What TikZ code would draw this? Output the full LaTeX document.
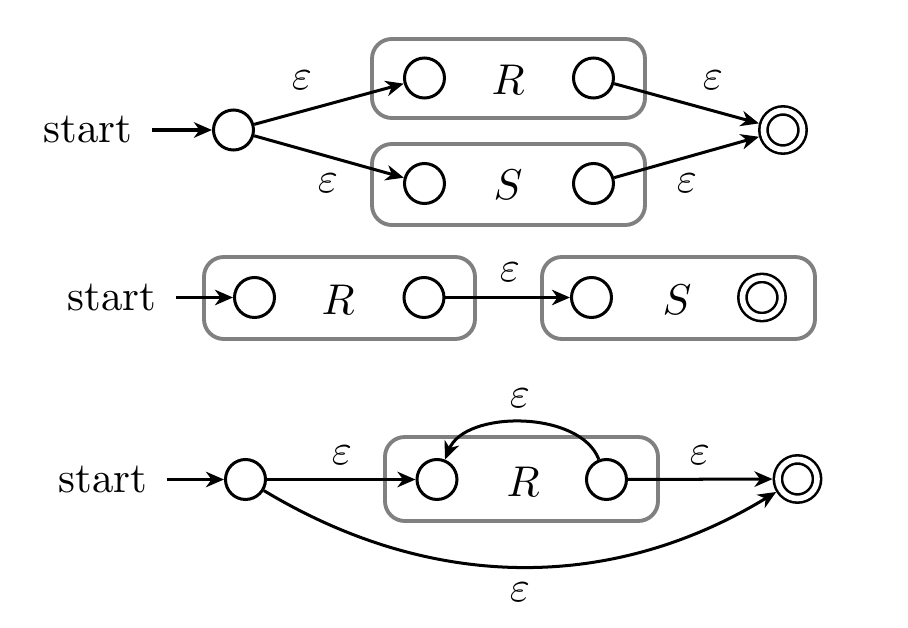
\documentclass[tikz,border=0pt]{standalone}
\usetikzlibrary{arrows.meta}
\begin{document}
\begin{tikzpicture}[x=0.2326pt,y=-0.2326pt,
  st/.style={circle,draw,line width=0.7pt,minimum size=9.3pt,inner sep=0pt},
  acc/.style={circle,draw,line width=0.6pt,double,double distance=1.3pt,minimum size=9.1pt,inner sep=0pt,outer sep=1.25pt},
  boxx/.style={draw=gray,line width=0.9pt,rounded corners=4.6pt},
  edge/.style={draw,line width=0.7pt,-{Stealth[length=4.2pt,width=3.6pt,inset=1.3pt]}},
  startedge/.style={edge,shorten <=4.4pt},
  lab/.style={inner sep=0pt},
  starttxt/.style={anchor=east,inner sep=0pt},
]
\useasboundingbox (0,0) rectangle (908,628);

% ---------- top: union ----------
\draw[boxx] (372,39) rectangle (645,118);
\draw[boxx] (372,144) rectangle (645,225);
\node[starttxt] (t1) at (133,130) {start};
\node[st] (q0) at (233.5,130) {};
\node[st] (r1) at (424.5,78) {};
\node[st] (r2) at (593.5,78) {};
\node[lab] (Rt) at (508,80) {$R$};
\node[st] (s1) at (424.5,183.5) {};
\node[st] (s2) at (593.5,183.5) {};
\node[lab] (St) at (508,185) {$S$};
\node[acc] (f1) at (783,130) {};
\draw[startedge] (t1) -- (q0);
\draw[edge] (q0) -- (r1);
\draw[edge] (q0) -- (s1);
\draw[edge] (r2) -- (f1);
\draw[edge] (s2) -- (f1);
\node[lab] (e1) at (302,80) {$\varepsilon$};
\node[lab] (e2) at (328,183) {$\varepsilon$};
\node[lab] (e3) at (713,80) {$\varepsilon$};
\node[lab] (e4) at (687,183) {$\varepsilon$};

% ---------- middle: concatenation ----------
\draw[boxx] (204,257) rectangle (475,339);
\draw[boxx] (542,257) rectangle (815,339);
\node[starttxt] (t2) at (157,297.5) {start};
\node[st] (a1) at (254.5,297.5) {};
\node[st] (a2) at (424,297.5) {};
\node[lab] (Rm) at (338,300) {$R$};
\node[st] (b1) at (591.5,297.5) {};
\node[lab] (Sm) at (677,300) {$S$};
\node[acc] (b2) at (762,297.5) {};
\draw[startedge] (t2) -- (a1);
\draw[edge] (a2) -- (b1);
\node[lab] (e5) at (510,272) {$\varepsilon$};

% ---------- bottom: star ----------
\draw[boxx] (385,437) rectangle (658,521);
\node[starttxt] (t3) at (148,479.5) {start};
\node[st] (c0) at (245.5,479.5) {};
\node[st] (c1) at (437,479.5) {};
\node[st] (c2) at (606.5,479.5) {};
\node[lab] (Rb) at (523,482) {$R$};
\node[acc] (cf) at (797.5,479) {};
\draw[startedge] (t3) -- (c0);
\draw[edge] (c0) -- (c1);
\draw[edge] (c2) -- (cf);
\draw[edge] (c2) .. controls (580,410) and (465,410) .. (c1);
\draw[edge] (c0) .. controls (432,592) and (612,592) .. (cf);
\node[lab] (e6) at (520,398) {$\varepsilon$};
\node[lab] (e7) at (342,455) {$\varepsilon$};
\node[lab] (e8) at (700,455) {$\varepsilon$};
\node[lab] (e9) at (520,592) {$\varepsilon$};
\end{tikzpicture}
\end{document}
